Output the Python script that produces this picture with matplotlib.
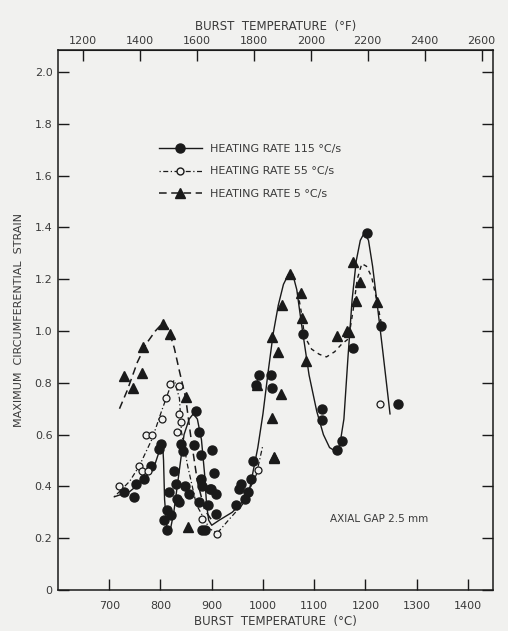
import matplotlib
matplotlib.use("Agg")
import matplotlib.pyplot as plt
from matplotlib.lines import Line2D

# ---------------- data ----------------
# 115 C/s, filled circles
c115_x = [729, 749, 753, 768, 782, 798, 802, 807, 813, 813, 817, 821, 827, 831, 833, 837,
          841, 843, 847, 856, 866, 870, 876, 876, 880, 880, 882, 882, 886, 892, 896, 899,
          901, 905, 909, 909, 948, 954, 958, 965, 970, 977, 980, 987, 993, 1015, 1017,
          1079, 1115, 1115, 1144, 1154, 1175, 1204, 1230, 1263]
c115_y = [0.38, 0.36, 0.41, 0.43, 0.48, 0.545, 0.565, 0.27, 0.31, 0.23, 0.38, 0.29, 0.46, 0.41,
          0.35, 0.34, 0.565, 0.535, 0.40, 0.37, 0.56, 0.69, 0.61, 0.34, 0.52, 0.43, 0.40, 0.23,
          0.23, 0.33, 0.39, 0.39, 0.54, 0.45, 0.37, 0.295, 0.33, 0.39, 0.41, 0.35, 0.38, 0.43,
          0.50, 0.79, 0.83, 0.83, 0.78, 0.99, 0.70, 0.655, 0.54, 0.577, 0.934, 1.38, 1.02, 0.717]

# 55 C/s, open circles
c55_x = [720, 759, 763, 772, 776, 784, 803, 811, 819, 833, 837, 837, 841, 882, 911, 991, 1228]
c55_y = [0.40, 0.48, 0.46, 0.60, 0.46, 0.60, 0.66, 0.74, 0.795, 0.61, 0.787, 0.68, 0.65,
         0.275, 0.217, 0.465, 0.717]

# 5 C/s, filled triangles
c5_x = [729, 747, 763, 766, 804, 819, 849, 853, 989, 1017, 1017, 1021, 1022, 1029, 1036,
        1038, 1052, 1075, 1077, 1085, 1144, 1165, 1167, 1175, 1181, 1189, 1222]
c5_y = [0.826, 0.779, 0.837, 0.938, 1.027, 0.988, 0.744, 0.244, 0.79, 0.977, 0.663, 0.512,
        0.51, 0.92, 0.756, 1.10, 1.22, 1.147, 1.05, 0.884, 0.98, 1.0, 0.996, 1.267, 1.116,
        1.19, 1.112]

# hand-drawn trend curves
l115_x = [710, 740, 770, 790, 800, 804, 806, 808, 812, 818, 826, 836, 846, 856, 864, 872,
          880, 886, 890, 894, 900, 915, 940, 960, 975, 990, 1000, 1010, 1020, 1030, 1040,
          1050, 1058, 1066, 1075, 1090, 1105, 1118, 1130, 1142, 1150, 1158, 1166, 1174,
          1182, 1190, 1198, 1206, 1214, 1222, 1234, 1248]
l115_y = [0.36, 0.38, 0.43, 0.49, 0.55, 0.57, 0.50, 0.35, 0.25, 0.22, 0.30, 0.45, 0.60, 0.66,
          0.68, 0.66, 0.58, 0.45, 0.33, 0.27, 0.25, 0.27, 0.30, 0.34, 0.40, 0.55, 0.68, 0.84,
          0.99, 1.10, 1.18, 1.22, 1.22, 1.16, 1.03, 0.83, 0.69, 0.60, 0.55, 0.535, 0.56, 0.66,
          0.90, 1.12, 1.27, 1.35, 1.38, 1.35, 1.25, 1.12, 0.92, 0.68]

l55_x = [710, 740, 759, 784, 802, 821, 827, 837, 841, 853, 870, 896, 911, 935, 960, 987, 1000]
l55_y = [0.36, 0.42, 0.48, 0.585, 0.69, 0.795, 0.81, 0.74, 0.61, 0.48, 0.33, 0.236, 0.22,
         0.275, 0.33, 0.445, 0.56]

l5a_x = [720, 735, 755, 772, 790, 804, 815, 827, 837, 849, 860, 872, 886, 900]
l5a_y = [0.70, 0.77, 0.88, 0.95, 1.00, 1.03, 1.01, 0.934, 0.845, 0.744, 0.58, 0.42, 0.31, 0.27]

l5b_x = [1068, 1076, 1081, 1095, 1110, 1124, 1140, 1154, 1167, 1176, 1184, 1193, 1202, 1212,
         1222, 1232]
l5b_y = [1.15, 1.06, 0.98, 0.93, 0.91, 0.90, 0.92, 0.95, 0.97, 1.08, 1.20, 1.26, 1.25, 1.21,
         1.12, 1.02]

xticks_c = [700, 800, 900, 1000, 1100, 1200, 1300, 1400]
xticks_f = [1200, 1400, 1600, 1800, 2000, 2200, 2400, 2600]
yticks = [0, 0.2, 0.4, 0.6, 0.8, 1.0, 1.2, 1.4, 1.6, 1.8, 2.0]
ytick_labels = ["0", "0.2", "0.4", "0.6", "0.8", "1.0", "1.2", "1.4", "1.6", "1.8", "2.0"]

# ---------------- figure ----------------
bg = "#f1f1ef"
ink = "#1a1a1a"
txt = "#3a3a3a"
W, H = 508, 631
fig = plt.figure(figsize=(W / 100, H / 100), dpi=100, facecolor=bg)
ax = fig.add_axes([58 / W, 1 - 590 / H, (493 - 58) / W, (590 - 50) / H])
ax.set_facecolor(bg)

ax.plot(l115_x, l115_y, color=ink, lw=1.0, ls="-")
ax.plot(l55_x, l55_y, color=ink, lw=0.9, ls=(0, (1, 2, 4, 2)))
ax.plot(l5a_x, l5a_y, color=ink, lw=1.1, ls=(0, (5, 3)))
ax.plot(l5b_x, l5b_y, color=ink, lw=1.0, ls=(0, (3, 3)))

ax.plot(c115_x, c115_y, ls="none", marker="o", ms=6.5, mfc=ink, mec=ink)
ax.plot(c55_x, c55_y, ls="none", marker="o", ms=5, mfc=bg, mec=ink, mew=0.9)
ax.plot(c5_x, c5_y, ls="none", marker="^", ms=6.5, mfc=ink, mec=ink)

ax.set_xlim(600, 1449)
ax.set_ylim(0, 2.085)

ax.set_xticks(xticks_c)
ax.set_yticks(yticks)
ax.set_yticklabels(ytick_labels)
ax.tick_params(axis="both", direction="in", length=8, width=1.0, color=ink,
               labelsize=8, labelcolor=txt, right=True, top=False)
ax.tick_params(axis="x", pad=8)
ax.tick_params(axis="y", pad=4)
for s in ax.spines.values():
    s.set_color(ink)
    s.set_linewidth(1.1)

secax = ax.secondary_xaxis("top", functions=(lambda c: c * 9 / 5 + 32,
                                             lambda f: (f - 32) * 5 / 9))
secax.set_xticks(xticks_f)
secax.tick_params(direction="in", length=8, width=1.0, color=ink,
                  labelsize=8, labelcolor=txt, pad=3)
secax.spines["top"].set_color(ink)
secax.set_xlabel("BURST  TEMPERATURE  (°F)", fontsize=8.5, color=txt, labelpad=4)

ax.set_xlabel("BURST  TEMPERATURE  (°C)", fontsize=8.5, color=txt, labelpad=3)
ax.set_ylabel("MAXIMUM  CIRCUMFERENTIAL  STRAIN", fontsize=8, color=txt, labelpad=8)

handles = [
    Line2D([], [], color=ink, lw=1.0, ls="-", marker="o", ms=6.5, mfc=ink, mec=ink),
    Line2D([], [], color=ink, lw=0.9, ls=(0, (1, 2, 4, 2)), marker="o", ms=5, mfc=bg,
           mec=ink),
    Line2D([], [], color=ink, lw=1.1, ls=(0, (5, 3)), marker="^", ms=6.5, mfc=ink, mec=ink),
]
labels = ["HEATING RATE 115 °C/s", "HEATING RATE 55 °C/s", "HEATING RATE 5 °C/s"]
leg = ax.legend(handles, labels, loc="upper left", bbox_to_anchor=(0.21, 0.845),
                frameon=False, fontsize=8, handlelength=3.8, handletextpad=0.8,
                labelspacing=1.15, labelcolor=txt)

ax.text(0.625, 0.125, "AXIAL GAP 2.5 mm", transform=ax.transAxes, fontsize=7.5,
        color=txt)

fig.savefig("out.png", dpi=100, facecolor=bg)
